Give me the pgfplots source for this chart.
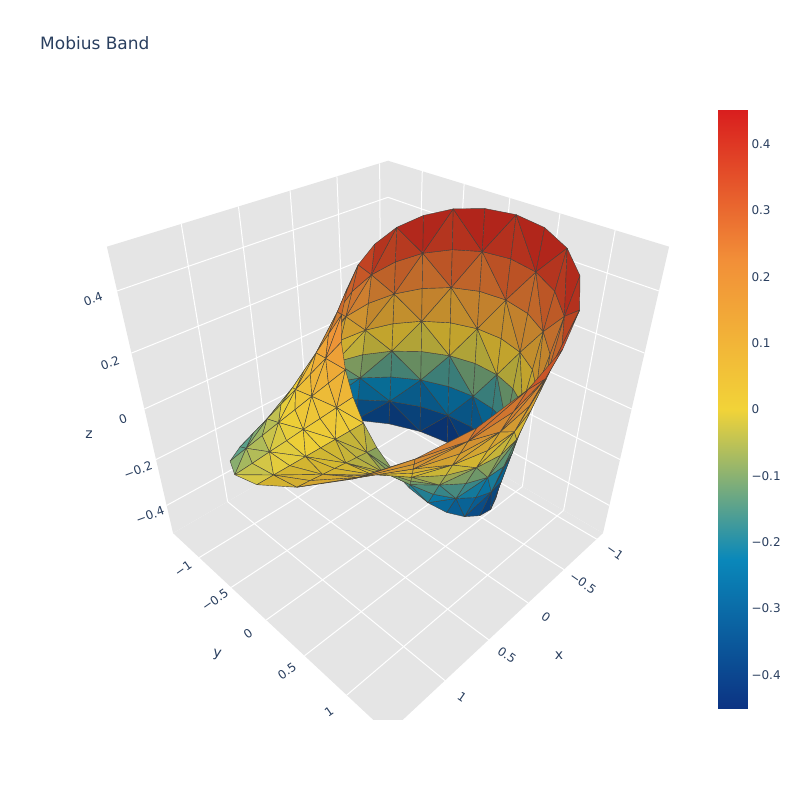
\documentclass[border=0pt]{standalone}
\usepackage{pgfplots}
\usepackage{pgfplotstable}
\usepackage{fontspec}
\setmainfont{DejaVu Sans}
\pgfplotsset{compat=1.18}
\definecolor{ink}{HTML}{2A3F5F}
\definecolor{wall}{RGB}{229,229,229}
\definecolor{edge}{RGB}{66,64,58}
% surface points: X Y Z, eight across the band for each of 24 steps round it
\pgfplotstableread{
X Y Z
.5 0 0
.643 0 0
.786 0 0
.929 0 0
1.071 0 0
1.214 0 0
1.357 0 0
1.5 0 0
.486 .136 -.068
.622 .174 -.049
.759 .213 -.029
.895 .251 -.010
1.031 .289 .010
1.167 .327 .029
1.304 .365 .049
1.440 .403 .068
.443 .269 -.135
.561 .341 -.096
.678 .412 -.058
.796 .484 -.019
.913 .555 .019
1.031 .627 .058
1.148 .698 .096
1.266 .770 .135
.370 .396 -.199
.459 .491 -.142
.548 .587 -.085
.638 .683 -.028
.727 .779 .028
.817 .874 .085
.906 .970 .142
.996 1.066 .199
.264 .509 -.260
.320 .617 -.186
.376 .725 -.111
.432 .834 -.037
.488 .942 .037
.544 1.050 .111
.600 1.159 .186
.657 1.267 .260
.125 .599 -.316
.147 .708 -.225
.170 .816 -.135
.192 .925 -.045
.215 1.033 .045
.237 1.142 .135
.260 1.250 .225
.282 1.359 .316
-.045 .657 -.365
-.052 .754 -.261
-.058 .852 -.157
-.065 .949 -.052
-.072 1.046 .052
-.078 1.144 .157
-.085 1.241 .261
-.092 1.338 .365
-.238 .671 -.408
-.266 .748 -.292
-.294 .826 -.175
-.321 .903 -.058
-.349 .981 .058
-.376 1.059 .175
-.404 1.136 .292
-.431 1.214 .408
-.444 .629 -.444
-.482 .683 -.317
-.520 .736 -.190
-.558 .790 -.063
-.596 .844 .063
-.634 .898 .190
-.671 .951 .317
-.709 1.005 .444
-.646 .525 -.471
-.683 .556 -.337
-.720 .586 -.202
-.757 .616 -.067
-.794 .646 .067
-.831 .676 .202
-.868 .707 .337
-.906 .737 .471
-.824 .358 -.490
-.851 .369 -.350
-.877 .381 -.210
-.904 .393 -.070
-.931 .404 .070
-.957 .416 .210
-.984 .427 .350
-1.011 .439 .490
-.957 .132 -.499
-.967 .133 -.356
-.976 .134 -.214
-.986 .136 -.071
-.996 .137 .071
-1.005 .138 .214
-1.015 .139 .356
-1.024 .141 .499
-1.024 -.141 -.499
-1.015 -.139 -.356
-1.005 -.138 -.214
-.996 -.137 -.071
-.986 -.136 .071
-.976 -.134 .214
-.967 -.133 .356
-.957 -.132 .499
-1.011 -.439 -.490
-.984 -.427 -.350
-.957 -.416 -.210
-.931 -.404 -.070
-.904 -.393 .070
-.877 -.381 .210
-.851 -.369 .350
-.824 -.358 .490
-.906 -.737 -.471
-.868 -.707 -.337
-.831 -.676 -.202
-.794 -.646 -.067
-.757 -.616 .067
-.720 -.586 .202
-.683 -.556 .337
-.646 -.525 .471
-.709 -1.005 -.444
-.671 -.951 -.317
-.634 -.898 -.190
-.596 -.844 -.063
-.558 -.790 .063
-.520 -.736 .190
-.482 -.683 .317
-.444 -.629 .444
-.431 -1.214 -.408
-.404 -1.136 -.292
-.376 -1.059 -.175
-.349 -.981 -.058
-.321 -.903 .058
-.294 -.826 .175
-.266 -.748 .292
-.238 -.671 .408
-.092 -1.338 -.365
-.085 -1.241 -.261
-.078 -1.144 -.157
-.072 -1.046 -.052
-.065 -.949 .052
-.058 -.852 .157
-.052 -.754 .261
-.045 -.657 .365
.282 -1.359 -.316
.260 -1.250 -.225
.237 -1.142 -.135
.215 -1.033 -.045
.192 -.925 .045
.170 -.816 .135
.147 -.708 .225
.125 -.599 .316
.657 -1.267 -.260
.600 -1.159 -.186
.544 -1.050 -.111
.488 -.942 -.037
.432 -.834 .037
.376 -.725 .111
.320 -.617 .186
.264 -.509 .260
.996 -1.066 -.199
.906 -.970 -.142
.817 -.874 -.085
.727 -.779 -.028
.638 -.683 .028
.548 -.587 .085
.459 -.491 .142
.370 -.396 .199
1.266 -.770 -.135
1.148 -.698 -.096
1.031 -.627 -.058
.913 -.555 -.019
.796 -.484 .019
.678 -.412 .058
.561 -.341 .096
.443 -.269 .135
1.440 -.403 -.068
1.304 -.365 -.049
1.167 -.327 -.029
1.031 -.289 -.010
.895 -.251 .010
.759 -.213 .029
.622 -.174 .049
.486 -.136 .068
1.5 0 0
1.357 0 0
1.214 0 0
1.071 0 0
.929 0 0
.786 0 0
.643 0 0
.5 0 0
}\mobius
% triangles joining the points, written out for patch table, by stretch of the band
\newwrite\trifile
\newcommand\MAKETRIS[3]{%
\immediate\openout\trifile=#1
\pgfplotsforeachungrouped \kk in {#2,...,#3}{%
  \pgfplotsforeachungrouped \jj in {0,...,6}{%
    \pgfmathtruncatemacro\ia{8*\kk+\jj}%
    \pgfmathtruncatemacro\ib{\ia+1}%
    \pgfmathtruncatemacro\ic{\ia+8}%
    \pgfmathtruncatemacro\id{\ia+9}%
    \pgfmathtruncatemacro\prty{mod(\kk+\jj,2)}%
    \ifnum\prty=0
      \immediate\write\trifile{\ia\space\ib\space\id}%
      \immediate\write\trifile{\ia\space\id\space\ic}%
    \else
      \immediate\write\trifile{\ia\space\ib\space\ic}%
      \immediate\write\trifile{\ib\space\id\space\ic}%
    \fi
  }%
}%
\immediate\closeout\trifile}
\MAKETRIS{trisa.dat}{7}{15}
\MAKETRIS{trisb.dat}{16}{18}
\MAKETRIS{trisc.dat}{19}{22}
\MAKETRIS{trisd.dat}{0}{6}
% perspective of the scene: camera at (1.25,1.25,1.25), box scaled to a unit cube
\newcommand\NX[1]{(((#1)-0.23776)/2.6823)}
\newcommand\NY[1]{((#1)/2.8875)}
\newcommand\NZ[1]{((#1)/1.06)}
\newcommand\DEP[3]{(\NX{#1}+\NY{#2}+\NZ{#3})/1.73205}
\newcommand\SX[3]{388+746*0.70711*(\NY{#2}-\NX{#1})/(2.16506-\DEP{#1}{#2}{#3})}
\newcommand\SY[3]{391+746*(2*\NZ{#3}-\NX{#1}-\NY{#2})/2.44949/(2.16506-\DEP{#1}{#2}{#3})}
\pgfplotsset{/pgfplots/table/proj/.style={
  x expr={\SX{\thisrow{X}}{\thisrow{Y}}{\thisrow{Z}}},
  y expr={\SY{\thisrow{X}}{\thisrow{Y}}{\thisrow{Z}}},
  z expr={\DEP{\thisrow{X}}{\thisrow{Y}}{\thisrow{Z}}}},
  band/.style={patch,shader=faceted,faceted color=edge,line width=0.4pt,z buffer=sort,point meta=explicit,forget plot},
  colormap={shadeA}{rgb255(0cm)=(10,41,105); rgb255(1cm)=(8,109,149); rgb255(2cm)=(194,169,45); rgb255(3cm)=(194,114,45); rgb255(4cm)=(174,24,24)},
  colormap={shadeB}{rgb255(0cm)=(10,43,111); rgb255(1cm)=(9,116,158); rgb255(2cm)=(206,179,48); rgb255(3cm)=(206,122,48); rgb255(4cm)=(184,26,26)},
  colormap={shadeC}{rgb255(0cm)=(12,50,128); rgb255(1cm)=(10,133,182); rgb255(2cm)=(237,207,55); rgb255(3cm)=(237,140,55); rgb255(4cm)=(213,29,29)},
  colormap={shadeD}{rgb255(0cm)=(10,44,114); rgb255(1cm)=(9,118,162); rgb255(2cm)=(211,184,49); rgb255(3cm)=(211,124,49); rgb255(4cm)=(189,26,26)},
  colormap={portland}{rgb255(0cm)=(12,51,131); rgb255(1cm)=(10,136,186); rgb255(2cm)=(242,211,56); rgb255(3cm)=(242,143,56); rgb255(4cm)=(217,30,30)}}
\newcommand\GL[6]{\addplot3[white,line width=1pt,forget plot] table[proj,row sep=\\]{X Y Z\\#1 #2 #3\\#4 #5 #6\\};}
\newcommand\WALL[4]{\addplot3[fill=wall,draw=none,forget plot] table[proj,row sep=\\]{X Y Z\\#1\\#2\\#3\\#4\\#1\\};}
\begin{document}
\begin{tikzpicture}[x=1pt,y=1pt]
\useasboundingbox (0,0) rectangle (800,800);
\begin{axis}[at={(0pt,80pt)},anchor=south west,scale only axis,width=800pt,height=720pt,
  xmin=0,xmax=800,ymin=80,ymax=800,zmin=-2,zmax=2,view={0}{90},hide axis,clip mode=individual,
  point meta min=-0.4513,point meta max=0.4513]
\WALL{-1.1034 -1.4437 -.53}{1.5789 -1.4437 -.53}{1.5789 1.4437 -.53}{-1.1034 1.4437 -.53}
\WALL{-1.1034 -1.4437 -.53}{-1.1034 1.4437 -.53}{-1.1034 1.4437 .53}{-1.1034 -1.4437 .53}
\WALL{-1.1034 -1.4437 -.53}{1.5789 -1.4437 -.53}{1.5789 -1.4437 .53}{-1.1034 -1.4437 .53}
\pgfplotsinvokeforeach{-1,-0.5,0,0.5,1}{
  \GL{#1}{-1.4437}{-.53}{#1}{1.4437}{-.53}
  \GL{-1.1034}{#1}{-.53}{1.5789}{#1}{-.53}
  \GL{-1.1034}{#1}{-.53}{-1.1034}{#1}{.53}
  \GL{#1}{-1.4437}{-.53}{#1}{-1.4437}{.53}
}
\pgfplotsinvokeforeach{-0.4,-0.2,0,0.2,0.4}{
  \GL{-1.1034}{-1.4437}{#1}{-1.1034}{1.4437}{#1}
  \GL{-1.1034}{-1.4437}{#1}{1.5789}{-1.4437}{#1}
}
\addplot3[band,colormap name=shadeA,patch table={trisa.dat}] table[proj,meta=Z]{\mobius};
\addplot3[band,colormap name=shadeB,patch table={trisb.dat}] table[proj,meta=Z]{\mobius};
\addplot3[band,colormap name=shadeC,patch table={trisc.dat}] table[proj,meta=Z]{\mobius};
\addplot3[band,colormap name=shadeD,patch table={trisd.dat}] table[proj,meta=Z]{\mobius};
\end{axis}
% colour bar
\begin{axis}[at={(718pt,91pt)},anchor=south west,scale only axis,width=29pt,height=599pt,
  xmin=0,xmax=1,ymin=-0.4513,ymax=0.4513,view={0}{90},axis line style={draw=none},
  xtick=\empty,ytick={-0.4,-0.3,-0.2,-0.1,0,0.1,0.2,0.3,0.4},
  yticklabels={−0.4,−0.3,−0.2,−0.1,0,0.1,0.2,0.3,0.4},ytick pos=right,major tick length=0pt,
  y tick label style={font=\fontsize{12}{14}\selectfont,text=ink,anchor=west,xshift=1pt},
  colormap name=portland,
  point meta min=-0.4513,point meta max=0.4513]
\addplot3[surf,shader=interp,point meta=y] coordinates {
(0,-0.4513,0) (1,-0.4513,0)

(0,-0.22565,0) (1,-0.22565,0)

(0,0,0) (1,0,0)

(0,0.22565,0) (1,0.22565,0)

(0,0.4513,0) (1,0.4513,0)
};
\end{axis}
\tikzset{t/.style={text=ink,font=\fontsize{12}{14}\selectfont,inner sep=0pt}}
\node[anchor=base west,text=ink,font=\fontsize{17}{20}\selectfont,inner sep=0pt] at (40,750) {Mobius Band};
\node[t,rotate=20] at (93,501) {0.4};
\node[t,rotate=20] at (110,437) {0.2};
\node[t,rotate=20] at (123,381) {0};
\node[t,rotate=20] at (138,330) {−0.2};
\node[t,rotate=20] at (150,285) {−0.4};
\node[t,font=\fontsize{14}{16}\selectfont] at (89,365) {z};
\node[t,rotate=35] at (183,231) {−1};
\node[t,rotate=35] at (215,200) {−0.5};
\node[t,rotate=35] at (248,166) {0};
\node[t,rotate=35] at (287,129) {0.5};
\node[t,rotate=35] at (329,88) {1};
\node[t,font=\fontsize{14}{16}\selectfont,rotate=-10] at (217,145) {y};
\node[t,rotate=-35] at (615,248) {−1};
\node[t,rotate=-35] at (583,217) {−0.5};
\node[t,rotate=-35] at (546,183) {0};
\node[t,rotate=-35] at (507,145) {0.5};
\node[t,rotate=-35] at (462,103) {1};
\node[t,font=\fontsize{14}{16}\selectfont] at (559,144) {x};
\end{tikzpicture}
\end{document}
